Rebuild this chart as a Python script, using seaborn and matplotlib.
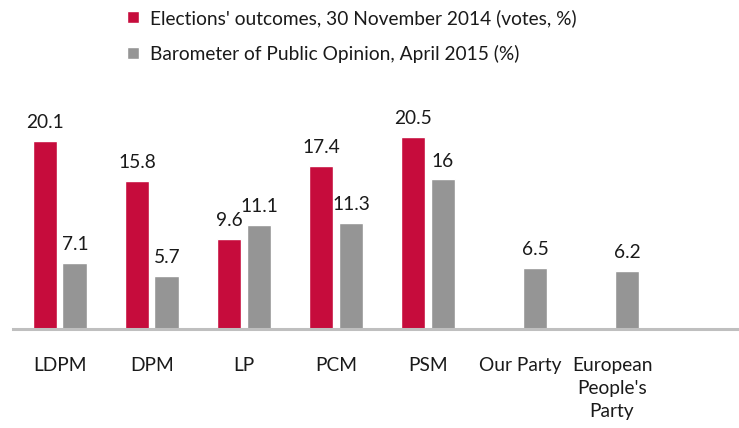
import numpy as np
import pandas as pd
import matplotlib
matplotlib.use("Agg")
import matplotlib.pyplot as plt
import seaborn as sns

# data
parties = ["LDPM", "DPM", "LP", "PCM", "PSM", "Our Party", "European\nPeople's\nParty"]
elections_2014 = [20.1, 15.8, 9.6, 17.4, 20.5, np.nan, np.nan]
barometer_2015 = [7.1, 5.7, 11.1, 11.3, 16, 6.5, 6.2]
series_names = ["Elections' outcomes, 30 November 2014 (votes, %)",
                "Barometer of Public Opinion, April 2015 (%)"]

df = pd.DataFrame({
    "party": parties * 2,
    "value": elections_2014 + barometer_2015,
    "series": [series_names[0]] * len(parties) + [series_names[1]] * len(parties),
})

sns.set_style("white")
plt.rcParams["font.family"] = ["Lato", "DejaVu Sans"]
fs = 13.8

fig = plt.figure(figsize=(7.39, 4.28), dpi=100)
ax = fig.add_axes([13 / 739, 99 / 428, 726 / 739, 249 / 428])

sns.barplot(data=df, x="party", y="value", hue="series", order=parties,
            hue_order=series_names, palette=["#C60C3C", "#959595"],
            saturation=1, width=0.65, gap=0.17, ax=ax, legend=True)

for cont in ax.containers:
    ax.bar_label(cont, labels=["" if np.isnan(v) else "%g" % v for v in cont.datavalues],
                 padding=7, fontsize=fs, color="#1a1a1a")

ax.set_xlim(-0.51, 7.38)
ax.set_ylim(0, 26.6)
ax.set_xlabel("")
ax.set_ylabel("")
ax.set_yticks([])
sns.despine(ax=ax, left=True)
ax.spines["bottom"].set_color("#BFBFBF")
ax.spines["bottom"].set_linewidth(2.2)
ax.tick_params(axis="x", length=0, pad=20, labelsize=fs, labelcolor="#1a1a1a")
for t in ax.get_xticklabels():
    t.set_linespacing(1.45)
    t.set_verticalalignment("top")

handles, labels = ax.get_legend_handles_labels()
ax.legend(handles, labels, loc="upper left", bbox_to_anchor=(110 / 739, 1.0 + 8 / 428),
          bbox_transform=fig.transFigure, frameon=False, fontsize=fs,
          handlelength=0.6, handleheight=0.6, handletextpad=0.6,
          labelspacing=0.92, labelcolor="#1a1a1a")

fig.savefig("out.png", dpi=100)
